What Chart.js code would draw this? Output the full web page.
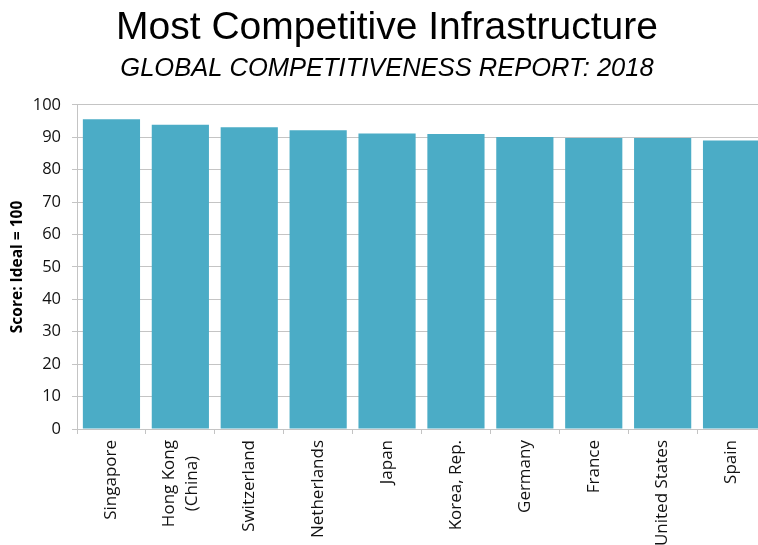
<!DOCTYPE html>
<html>
<head>
<meta charset="utf-8">
<script src="https://cdn.jsdelivr.net/npm/chart.js@4/dist/chart.umd.min.js"></script>
<style>
  html, body { margin: 0; padding: 0; background: #fff; overflow: hidden; }
  #wrap { width: 770px; height: 545px; }
</style>
</head>
<body>
<div id="wrap"><canvas id="myChart"></canvas></div>
<script>
// countries and infrastructure pillar scores
const countries = [
  "Singapore",
  ["Hong Kong", "(China)"],
  "Switzerland",
  "Netherlands",
  "Japan",
  "Korea, Rep.",
  "Germany",
  "France",
  "United States",
  "Spain",
];
const scores = [95.6, 93.9, 93.1, 92.2, 91.2, 91.0, 90.1, 89.8, 89.8, 89.0];
const yTicks = [0, 10, 20, 30, 40, 50, 60, 70, 80, 90, 100];

const gridColor = "#c4c4c4";

// vertical category labels, multi-line ones centred on the tick
const xLabels = {
  id: "xLabels",
  afterDraw(chart) {
    const ctx = chart.ctx;
    const xs = chart.scales.x;
    const lineGap = 23;
    ctx.save();
    ctx.font = "17px 'Open Sans'";
    ctx.fillStyle = "#111";
    ctx.textAlign = "center";
    ctx.textBaseline = "middle";
    countries.forEach((label, i) => {
      const lines = Array.isArray(label) ? label : [label];
      const maxW = Math.max(...lines.map((l) => ctx.measureText(l).width));
      ctx.save();
      ctx.translate(xs.getPixelForTick(i), xs.top + 11);
      ctx.rotate(-Math.PI / 2);
      lines.forEach((line, j) => {
        ctx.fillText(line, -maxW / 2, (j - (lines.length - 1) / 2) * lineGap);
      });
      ctx.restore();
    });
    ctx.restore();
  },
};

const data = {
  labels: countries,
  datasets: [
    {
      data: scores,
      backgroundColor: "rgb(75, 172, 198)",
      borderWidth: 0,
      categoryPercentage: 0.83,
      barPercentage: 1,
    },
  ],
};

const config = {
  type: "bar",
  data: data,
  plugins: [xLabels],
  options: {
    responsive: true,
    maintainAspectRatio: false,
    animation: false,
    layout: { padding: { left: 8, right: 4, top: 0, bottom: 0 } },
    plugins: {
      legend: { display: false },
      tooltip: { enabled: false },
      title: {
        display: true,
        text: "Most Competitive Infrastructure",
        color: "#000",
        font: { family: "Liberation Sans", size: 39, weight: "normal", lineHeight: 1.2 },
        padding: { top: 4.5, bottom: 0 },
      },
      subtitle: {
        display: true,
        text: "GLOBAL COMPETITIVENESS REPORT: 2018",
        color: "#000",
        font: { family: "Liberation Sans", size: 25.5, style: "italic", lineHeight: 1.2 },
        padding: { top: 2, bottom: 21 },
      },
    },
    scales: {
      x: {
        grid: {
          offset: true,
          drawOnChartArea: false,
          color: gridColor,
          tickLength: 5,
        },
        border: { color: gridColor, width: 1 },
        ticks: { display: false, autoSkip: false },
        afterFit: function (scale) {
          scale.height = 116;
        },
      },
      y: {
        min: 0,
        max: 100,
        afterBuildTicks: function (scale) {
          scale.ticks = yTicks.map((v) => ({ value: v }));
        },
        grid: { color: gridColor, tickLength: 5 },
        border: { color: gridColor, width: 1 },
        ticks: {
          padding: 11,
          color: "#111",
          font: { family: "Open Sans", size: 16.5 },
        },
        title: {
          display: true,
          text: "Score: Ideal = 100",
          color: "#000",
          font: { family: "Open Sans", size: 15.5, weight: "bold", lineHeight: 1.2 },
          padding: { top: 0, bottom: 0 },
        },
        afterFit: function (scale) {
          scale.width = 69;
        },
      },
    },
  },
};

const myChart = new Chart(document.getElementById("myChart"), config);
</script>
</body>
</html>
